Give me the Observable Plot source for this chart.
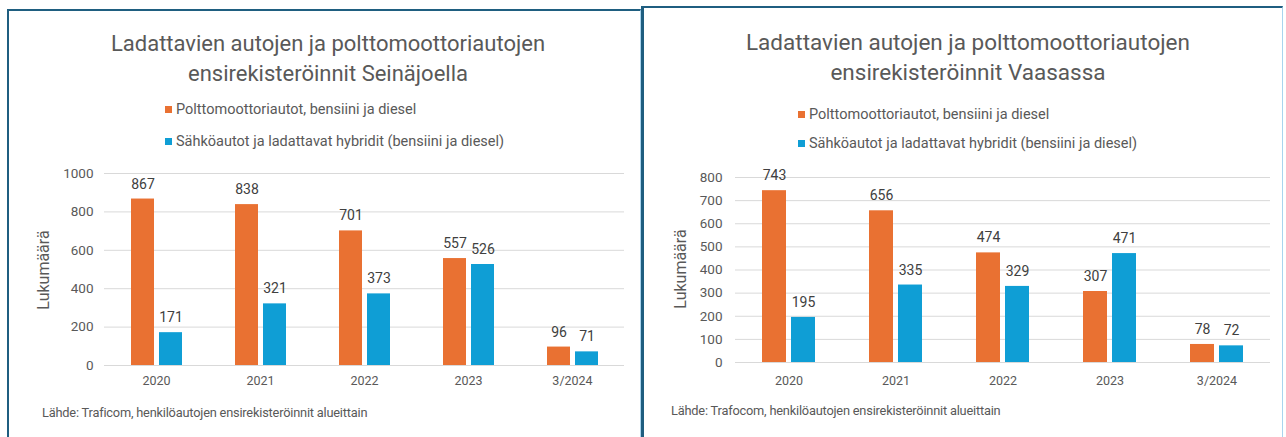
<!DOCTYPE html>
<html>
<head>
<meta charset="utf-8">
<script src="https://cdn.jsdelivr.net/npm/d3@7"></script>
<script src="https://cdn.jsdelivr.net/npm/@observablehq/plot@0.6"></script>
<style>
  html, body { margin: 0; padding: 0; background: #fff; }
  body { width: 1286px; height: 437px; overflow: hidden; position: relative; font-family: Roboto, "Noto Sans", sans-serif; color: #595959; }
  .panel { position: absolute; box-sizing: border-box; background: #fff; }
  #p1 { left: 7px; top: 9px; width: 634px; height: 440px; border-left: 2px solid #1F5E80; border-top: 2px solid #1F5E80; border-right: 1px solid #A9D4EE; }
  #p2 { left: 641px; top: 6px; width: 642px; height: 440px; border-left: 3px solid #1F5E80; border-top: 2px solid #1F5E80; border-right: 1px solid #A9D4EE; }
  .abs { position: absolute; white-space: nowrap; }
  .title { line-height: 30px; text-align: center; color: #595959; }
  .leg { font-size: 14.5px; color: #595959; display: flex; align-items: center; }
  .leg i { display: inline-block; width: 7px; height: 7px; margin-right: 4px; }
  .src { font-size: 12.8px; color: #595959; letter-spacing: -0.2px; }
  .ylab { font-size: 16px; color: #595959; transform: translate(-50%, -50%) rotate(-90deg); }
  .chart { position: absolute; }
</style>
</head>
<body>
<div id="root"></div>
<script>
// ---- data ----
const categories = ["2020", "2021", "2022", "2023", "3/2024"];
const seriesNames = [
  "Polttomoottoriautot, bensiini ja diesel",
  "Sähköautot ja ladattavat hybridit (bensiini ja diesel)"
];
const seinajokiCombustion = [867, 838, 701, 557, 96];
const seinajokiElectric   = [171, 321, 373, 526, 71];
const vaasaCombustion     = [743, 656, 474, 307, 78];
const vaasaElectric       = [195, 335, 329, 471, 72];
const seinajokiTicks = [0, 200, 400, 600, 800, 1000];
const vaasaTicks     = [0, 100, 200, 300, 400, 500, 600, 700, 800];
const titleSeinajoki = ["Ladattavien autojen ja polttomoottoriautojen", "ensirekisteröinnit Seinäjoella"];
const titleVaasa     = ["Ladattavien autojen ja polttomoottoriautojen", "ensirekisteröinnit Vaasassa"];
const sourceSeinajoki = "Lähde: Traficom, henkilöautojen ensirekisteröinnit alueittain";
const sourceVaasa     = "Lähde: Trafocom, henkilöautojen ensirekisteröinnit alueittain";
const yLabel = "Lukumäärä";
const colors = ["#E97132", "#0F9ED5"];

function table(a, b) {
  const rows = [];
  categories.forEach((c, i) => {
    rows.push({cat: c, series: seriesNames[0], value: a[i]});
    rows.push({cat: c, series: seriesNames[1], value: b[i]});
  });
  return rows;
}

function makeChart(rows, ticks, cfg) {
  return Plot.plot({
    width: cfg.width,
    height: cfg.height,
    marginLeft: cfg.ml,
    marginRight: cfg.mr,
    marginTop: cfg.mt,
    marginBottom: cfg.mb,
    style: {fontFamily: "Roboto, 'Noto Sans', sans-serif", fontSize: "12.5px", color: "#595959", background: "transparent"},
    fx: {domain: categories, paddingInner: 0, paddingOuter: 0, label: null},
    x: {domain: seriesNames, paddingInner: 0.18, paddingOuter: 0.92, axis: null},
    y: {domain: [ticks[0], ticks[ticks.length - 1]], label: null},
    color: {domain: seriesNames, range: colors},
    marks: [
      Plot.ruleY(ticks, {stroke: "#D9D9D9", strokeWidth: 1}),
      Plot.axisY(ticks, {tickFormat: d => String(d), tickSize: 0, tickPadding: cfg.yPad, fontSize: 13.5, label: null, fill: "#595959"}),
      Plot.axisFx({anchor: "bottom", tickSize: 0, tickPadding: cfg.fxPad, fontSize: 12.5, label: null, fill: "#595959"}),
      Plot.barY(rows, {fx: "cat", x: "series", y: "value", fill: "series"}),
      Plot.text(rows, {fx: "cat", x: "series", y: "value", text: d => String(d.value), dy: -15, fill: "#404040", fontSize: 14})
    ]
  });
}

function buildPanel(id, titleLines, titleSize, titleCenterX, titleY, legX, legY, source, srcX, srcY, ylabX, ylabY, chart, chartX, chartY) {
  const p = document.createElement("div");
  p.className = "panel"; p.id = id;
  document.body.appendChild(p);
  const off = p.getBoundingClientRect();
  const add = (el, x, y) => { el.style.left = (x - off.left) + "px"; el.style.top = (y - off.top) + "px"; p.appendChild(el); return el; };
  titleLines.forEach((t, i) => {
    const d = document.createElement("div");
    d.className = "abs title"; d.textContent = t;
    d.style.fontSize = titleSize + "px";
    add(d, titleCenterX - 300, titleY[i] - 15);
    d.style.width = "600px";
  });
  seriesNames.forEach((s, i) => {
    const d = document.createElement("div");
    d.className = "abs leg";
    d.innerHTML = `<i style="background:${colors[i]}"></i><span></span>`;
    d.querySelector("span").textContent = s;
    add(d, legX, legY[i] - 9);
  });
  const yl = document.createElement("div");
  yl.className = "abs ylab"; yl.textContent = yLabel;
  add(yl, ylabX, ylabY);
  chart.classList.add("chart");
  add(chart, chartX, chartY);
  const s = document.createElement("div");
  s.className = "abs src"; s.textContent = source;
  add(s, srcX, srcY - 9);
}

const chart1 = makeChart(table(seinajokiCombustion, seinajokiElectric), seinajokiTicks,
  {width: 580, height: 250, ml: 40, mr: 17, mt: 21, mb: 37, yPad: 11, fxPad: 11});
const chart2 = makeChart(table(vaasaCombustion, vaasaElectric), vaasaTicks,
  {width: 590, height: 250, ml: 40, mr: 11, mt: 25, mb: 40, yPad: 13, fxPad: 14});

buildPanel("p1", titleSeinajoki, 22, 326, [42, 72], 163, [108, 140], sourceSeinajoki, 40, 412, 41, 268, chart1, 60, 150);
buildPanel("p2", titleVaasa, 22.5, 965, [40, 70], 795, [113, 142], sourceVaasa, 668, 410, 677, 267, chart2, 690, 150);
</script>
</body>
</html>
